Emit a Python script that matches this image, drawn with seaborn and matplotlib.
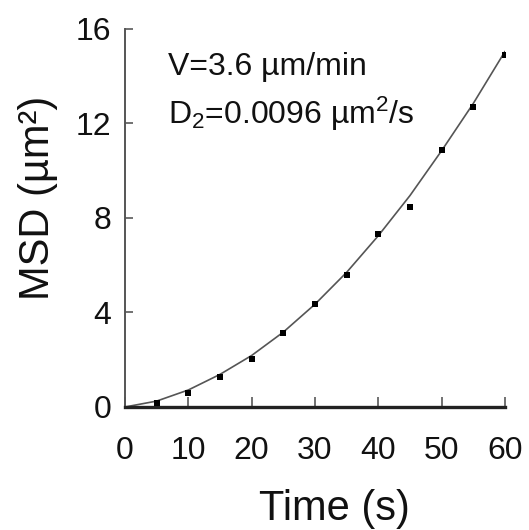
import matplotlib
matplotlib.use("Agg")
import matplotlib.pyplot as plt
import seaborn as sns
import pandas as pd

# Data
time_s = [5, 10, 15, 20, 25, 30, 35, 40, 45, 50, 55, 60]
msd_um2 = [0.18, 0.60, 1.26, 2.03, 3.12, 4.36, 5.59, 7.31, 8.46, 10.86, 12.70, 14.92]

fit_time = [0, 5, 10, 15, 20, 25, 30, 35, 40, 45, 50, 55, 60]
fit_msd = [0.0, 0.25, 0.72, 1.38, 2.18, 3.17, 4.35, 5.70, 7.25, 8.95, 10.85, 12.85, 15.05]

x_ticks = [0, 10, 20, 30, 40, 50, 60]
y_ticks = [0, 4, 8, 12, 16]

sns.set_theme(style="white")
plt.rcParams['font.family'] = ['Liberation Sans', 'DejaVu Sans']
plt.rcParams['mathtext.fontset'] = 'custom'
plt.rcParams['mathtext.rm'] = 'Liberation Sans'
plt.rcParams['mathtext.it'] = 'Liberation Sans'

fig = plt.figure(figsize=(5.29, 5.30), dpi=100)
ax = fig.add_axes([0.2363, 0.2321, 0.7183, 0.7132])

fit_df = pd.DataFrame({"t": fit_time, "msd": fit_msd})
pts_df = pd.DataFrame({"t": time_s, "msd": msd_um2})

sns.lineplot(data=fit_df, x="t", y="msd", ax=ax, color="#555555", linewidth=1.2)
sns.scatterplot(data=pts_df, x="t", y="msd", ax=ax, color="black", marker="s",
                s=20, edgecolor="black", linewidth=0, zorder=3)

ax.set_xlim(0, 60)
ax.set_ylim(0, 16)
ax.set_xticks(x_ticks)
ax.set_yticks(y_ticks)
ax.set_xticklabels([str(v) for v in x_ticks])
ax.set_yticklabels([str(v) for v in y_ticks])

for s in ["top", "right"]:
    ax.spines[s].set_visible(False)
ax.spines["left"].set_color("#555555")
ax.spines["left"].set_linewidth(1.4)
ax.spines["bottom"].set_color("#222222")
ax.spines["bottom"].set_linewidth(2.4)

ax.tick_params(axis="both", direction="in", bottom=True, left=True,
               width=1.3, colors="#666666", labelcolor="#111111")
ax.tick_params(axis="x", length=7, labelsize=23, pad=21)
ax.tick_params(axis="y", length=6, labelsize=23, pad=10)

ax.set_xlabel("Time (s)", fontsize=30, color="#111111", va="top")
ax.xaxis.set_label_coords(0.55, -0.218)
ax.set_ylabel("MSD (µm²)", fontsize=30, color="#111111", va="center")
ax.yaxis.set_label_coords(-0.23, 0.553)

ax.text(0.113, 0.899, "V=3.6 µm/min", transform=ax.transAxes, fontsize=23,
        color="#111111", va="center", ha="left")
ax.text(0.113, 0.775, r"D$_2$=0.0096 µm$^2$/s", transform=ax.transAxes, fontsize=23,
        color="#111111", va="center", ha="left")

fig.savefig("out.png", dpi=100)
